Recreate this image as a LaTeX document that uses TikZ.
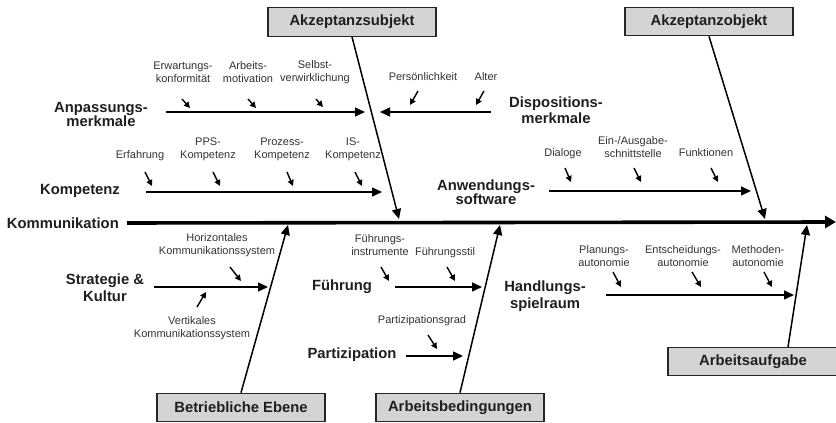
\documentclass[tikz,border=0pt]{standalone}
\usepackage{fontspec}
\setmainfont{Liberation Sans}
\usetikzlibrary{arrows.meta,calc}

\begin{document}
\begin{tikzpicture}[x=1pt,y=-1pt,
  cat/.style={font=\bfseries\fontsize{14.8}{15.5}\selectfont, text=black!88, align=center, inner sep=0pt},
  item/.style={font=\fontsize{11}{13}\selectfont, text=black!80, align=center, inner sep=0pt},
  factor/.style={draw=black!85, line width=1.2pt, fill=black!17, minimum width=168pt,
    minimum height=28.5pt, inner sep=0pt, font=\bfseries\fontsize{14.8}{15.5}\selectfont, text=black!88},
  spine/.style={line width=3.6pt, -{Triangle[length=11pt,width=12pt]}},
  bone/.style={line width=1.5pt, -{Triangle[length=10pt,width=9pt]}},
  twig/.style={line width=1.4pt, -{Triangle[length=6pt,width=6pt]}},
]
\useasboundingbox (0,0) rectangle (836,423);

% ---------- main factors (boxes) ----------
\node[factor] (subj) at (352,22)    {Akzeptanzsubjekt};
\node[factor] (obj)  at (709,21.5)  {Akzeptanzobjekt};
\node[factor] (ebene) at (241,407.5) {Betriebliche Ebene};
\node[factor] (bed)  at (460,407.5) {Arbeitsbedingungen};
\node[factor, minimum width=170pt] (aufg) at (753,361.5) {Arbeitsaufgabe};

% ---------- spine ----------
\node[cat, anchor=east] (komm) at (119,223) {Kommunikation};
\coordinate (spR) at (836,222);
\draw[spine, shorten <=8pt] (komm.east) -- (spR);

% end points of the main bones on the spine
\coordinate (subjT) at (399,219);
\coordinate (objT)  at (765,219);
\coordinate (ebeneT) at (288,225);
\coordinate (bedT)  at (500,225);
\coordinate (aufgS) at (788,347);
\coordinate (aufgT) at (807,225);

\draw[bone] (subj.south) -- (subjT);
\draw[bone] (obj.south) -- (objT);
\draw[bone] (ebene.north) -- (ebeneT);
\draw[bone] (bed.north) -- (bedT);
\draw[bone] (aufgS) -- (aufgT);

% ---------- Anpassungsmerkmale ----------
\node[cat, font=\bfseries\fontsize{14.8}{14}\selectfont] (anp) at (101,114) {Anpassungs-\\merkmale};
\coordinate (anpS) at (166,112); \coordinate (anpT) at (365,112);
\draw[bone] (anpS) -- (anpT);
\node[item] (erw) at (183,72.5) {Erwartungs-\\konformität};
\node[item] (mot) at (248,72.5) {Arbeits-\\motivation};
\node[item] (sel) at (315,72.5) {Selbst-\\verwirklichung};
\path (182,99) coordinate (erwA) (190,108) coordinate (erwB)
      (248,99) coordinate (motA) (256,108) coordinate (motB)
      (316,99) coordinate (selA) (323,107) coordinate (selB);
\draw[twig] (erwA) -- (erwB);
\draw[twig] (motA) -- (motB);
\draw[twig] (selA) -- (selB);

% ---------- Dispositionsmerkmale ----------
\node[cat, font=\bfseries\fontsize{14.8}{16.5}\selectfont] (disp) at (556,110) {Dispositions-\\merkmale};
\coordinate (dispS) at (491,112); \coordinate (dispT) at (380,112);
\draw[bone] (dispS) -- (dispT);
\node[item] (pers) at (423,77) {Persönlichkeit};
\node[item] (alt)  at (486,77) {Alter};
\path (418,91) coordinate (persA) (410,105) coordinate (persB)
      (484,91) coordinate (altA)  (476,105) coordinate (altB);
\draw[twig] (persA) -- (persB);
\draw[twig] (altA) -- (altB);

% ---------- Kompetenz ----------
\node[cat] (komp) at (80,191) {Kompetenz};
\coordinate (kompS) at (146,192); \coordinate (kompT) at (382,192);
\draw[bone] (kompS) -- (kompT);
\node[item] (erf) at (140,156)   {Erfahrung};
\node[item] (pps) at (208,149.5) {PPS-\\Kompetenz};
\node[item] (pro) at (282,149.5) {Prozess-\\Kompetenz};
\node[item] (isk) at (353,149.5) {IS-\\Kompetenz};
\path (145,172) coordinate (erfA) (152,186) coordinate (erfB)
      (213,172) coordinate (ppsA) (220,186) coordinate (ppsB)
      (287,172) coordinate (proA) (293,186) coordinate (proB)
      (355,172) coordinate (iskA) (362,186) coordinate (iskB);
\draw[twig] (erfA) -- (erfB);
\draw[twig] (ppsA) -- (ppsB);
\draw[twig] (proA) -- (proB);
\draw[twig] (iskA) -- (iskB);

% ---------- Anwendungssoftware ----------
\node[cat, font=\bfseries\fontsize{14.8}{14.5}\selectfont] (anw) at (486,192) {Anwendungs-\\software};
\coordinate (anwS) at (549,191); \coordinate (anwT) at (751,191);
\draw[bone] (anwS) -- (anwT);
\node[item] (dia) at (563,154) {Dialoge};
\node[item] (ein) at (633,147) {Ein-/Ausgabe-\\schnittstelle};
\node[item] (fkt) at (706,153) {Funktionen};
\path (565,168) coordinate (diaA) (571,182) coordinate (diaB)
      (634,168) coordinate (einA) (641,182) coordinate (einB)
      (711,168) coordinate (fktA) (718,182) coordinate (fktB);
\draw[twig] (diaA) -- (diaB);
\draw[twig] (einA) -- (einB);
\draw[twig] (fktA) -- (fktB);

% ---------- Strategie & Kultur ----------
\node[cat, font=\bfseries\fontsize{14.8}{17}\selectfont] (str) at (105,288) {Strategie \&\\Kultur};
\coordinate (strS) at (154,287); \coordinate (strT) at (268,287);
\draw[bone] (strS) -- (strT);
\node[item] (hor) at (217,245.5) {Horizontales\\Kommunikationssystem};
\node[item] (ver) at (192,328)   {Vertikales\\Kommunikationssystem};
\path (230,267) coordinate (horA) (241,281) coordinate (horB)
      (197,307) coordinate (verA) (206,292) coordinate (verB);
\draw[twig] (horA) -- (horB);
\draw[twig] (verA) -- (verB);

% ---------- Führung ----------
\node[cat] (fue) at (342,287) {Führung};
\coordinate (fueS) at (395,287); \coordinate (fueT) at (482,287);
\draw[bone] (fueS) -- (fueT);
\node[item] (ins) at (380,245.5) {Führungs-\\instrumente};
\node[item] (sti) at (445,253)   {Führungsstil};
\path (381,267) coordinate (insA) (389,281) coordinate (insB)
      (447,267) coordinate (stiA) (455,281) coordinate (stiB);
\draw[twig] (insA) -- (insB);
\draw[twig] (stiA) -- (stiB);

% ---------- Partizipation ----------
\node[cat] (par) at (352,355) {Partizipation};
\coordinate (parS) at (406,356); \coordinate (parT) at (463,356);
\draw[bone] (parS) -- (parT);
\node[item] (grad) at (422,321) {Partizipationsgrad};
\path (428,335) coordinate (gradA) (437,349) coordinate (gradB);
\draw[twig] (gradA) -- (gradB);

% ---------- Handlungsspielraum ----------
\node[cat, font=\bfseries\fontsize{14.8}{16.5}\selectfont] (hsp) at (545,296) {Handlungs-\\spielraum};
\coordinate (hspS) at (606,295); \coordinate (hspT) at (794,295);
\draw[bone] (hspS) -- (hspT);
\node[item] (pla) at (604,256.5) {Planungs-\\autonomie};
\node[item] (ent) at (683,256.5) {Entscheidungs-\\autonomie};
\node[item] (met) at (758,256.5) {Methoden-\\autonomie};
\path (613,272) coordinate (plaA) (621,287) coordinate (plaB)
      (692,272) coordinate (entA) (701,287) coordinate (entB)
      (764,272) coordinate (metA) (772,287) coordinate (metB);
\draw[twig] (plaA) -- (plaB);
\draw[twig] (entA) -- (entB);
\draw[twig] (metA) -- (metB);

\end{tikzpicture}
\end{document}
